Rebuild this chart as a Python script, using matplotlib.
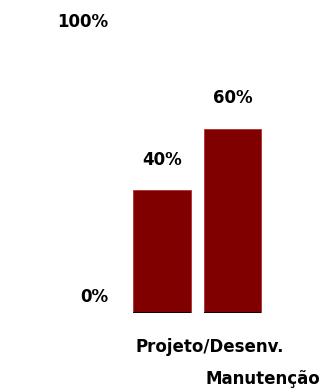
import matplotlib.pyplot as plt
import matplotlib.transforms as mtransforms

plt.rcParams["font.family"] = ["DejaVu Sans"]
plt.rcParams["font.weight"] = "bold"

# data
categories = ["Projeto/Desenv.", "Manutenção"]
values = [40, 60]
value_labels = ["40%", "60%"]
ytick_values = [0, 100]
ytick_labels = ["0%", "100%"]

BAR_COLOR = "#800000"
EDGE_COLOR = "#b03030"
BAR_WIDTH = 0.82
FONT_SIZE = 12


def main():
    fig = plt.figure(figsize=(3.34, 3.92), dpi=100)
    ax = fig.add_axes([0.274, 0.2015, 0.633, 0.7832])

    xs = list(range(len(categories)))
    bars = ax.bar(xs, values, width=BAR_WIDTH, color=BAR_COLOR,
                  edgecolor=EDGE_COLOR, linewidth=0.6)

    # black base line under each bar
    for b in bars:
        ax.hlines(0, b.get_x(), b.get_x() + b.get_width(), color="black", lw=1.2)

    # value labels above bars
    for b, lab in zip(bars, value_labels):
        ax.annotate(lab, (b.get_x() + b.get_width() / 2, b.get_height()),
                    xytext=(0, 22), textcoords="offset points",
                    ha="center", va="center", fontsize=FONT_SIZE, fontweight="bold")

    # staggered category labels, left aligned on bar edges
    trans = mtransforms.blended_transform_factory(ax.transData, ax.transAxes)
    for i, (b, cat) in enumerate(zip(bars, categories)):
        ax.text(b.get_x() + 0.03, -0.11 - i * 0.105, cat, transform=trans,
                ha="left", va="center", fontsize=FONT_SIZE, fontweight="bold")

    ax.set_xlim(-1, 2)
    ax.set_ylim(0, 100)
    ax.set_xticks([])
    ax.set_yticks(ytick_values)
    ax.set_yticklabels(ytick_labels, fontsize=FONT_SIZE, fontweight="bold")
    ax.tick_params(axis="y", length=0, pad=-12)

    # shift tick labels like the original (0% sits above the baseline, 100% below top)
    shifts = [13, -10]
    for lab, dy in zip(ax.get_yticklabels(), shifts):
        off = mtransforms.ScaledTranslation(0, dy / 72, fig.dpi_scale_trans)
        lab.set_transform(lab.get_transform() + off)

    for s in ax.spines.values():
        s.set_visible(False)

    fig.savefig("out.png", dpi=100)
    plt.close(fig)


if __name__ == "__main__":
    main()
